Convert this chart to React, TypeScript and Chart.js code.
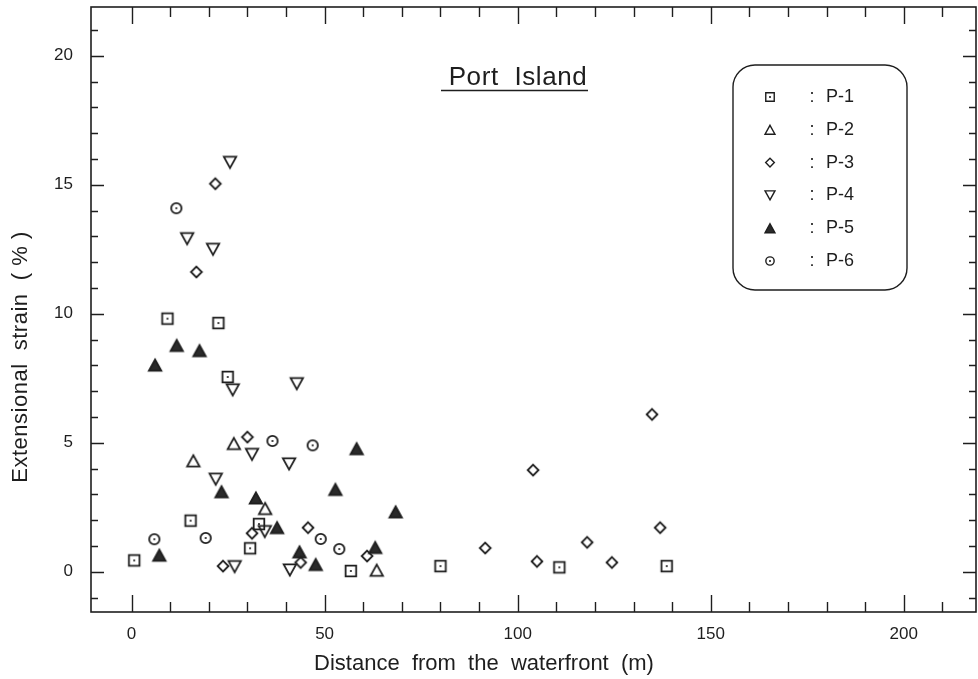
import { useEffect, useRef } from "react";
import { Chart, registerables } from "chart.js";

Chart.register(...registerables);

// ---------- data ----------
const seriesLabels = ["P-1", "P-2", "P-3", "P-4", "P-5", "P-6"];

const p1X = [0.7, 9.3, 15.3, 22.5, 24.9, 30.7, 33.0, 56.8, 80.0, 110.8, 138.6];
const p1Y = [0.44, 9.81, 1.98, 9.64, 7.55, 0.91, 1.85, 0.03, 0.22, 0.17, 0.22];

const p2X = [16.0, 26.5, 34.6, 63.5];
const p2Y = [4.3, 4.97, 2.45, 0.06];

const p3X = [21.7, 16.8, 30.0, 31.2, 23.7, 45.7, 43.8, 61.0, 91.6, 104.0, 105.0, 118.0, 124.4, 134.8, 136.9];
const p3Y = [15.04, 11.62, 5.22, 1.49, 0.22, 1.71, 0.36, 0.61, 0.92, 3.94, 0.4, 1.14, 0.36, 6.1, 1.71];

const p4X = [25.5, 14.4, 21.1, 26.2, 42.8, 31.2, 40.8, 21.8, 34.5, 26.7, 41.0];
const p4Y = [15.87, 12.91, 12.5, 7.05, 7.29, 4.55, 4.18, 3.59, 1.56, 0.2, 0.07];

const p5X = [6.1, 11.7, 17.6, 7.2, 23.3, 32.2, 37.7, 43.5, 47.7, 58.3, 52.8, 63.1, 68.4];
const p5Y = [8.01, 8.77, 8.57, 0.64, 3.1, 2.86, 1.71, 0.77, 0.28, 4.77, 3.19, 0.94, 2.32];

const p6X = [11.6, 5.9, 19.2, 36.5, 46.9, 49.0, 53.8];
const p6Y = [14.09, 1.26, 1.31, 5.07, 4.9, 1.27, 0.88];

const seriesX = [p1X, p2X, p3X, p4X, p5X, p6X];
const seriesY = [p1Y, p2Y, p3Y, p4Y, p5Y, p6Y];
const markerKinds = ["squareDot", "triUp", "diamond", "triDown", "triFilled", "circleDot"];

const xTickLabels = [0, 50, 100, 150, 200];
const yTickLabels = [0, 5, 10, 15, 20];
const xMinorStep = 10;
const yMinorStep = 1;

const xTitle = "Distance  from  the  waterfront  (m)";
const yTitle = "Extensional  strain  ( % )";
const plotTitle = "Port  Island";

const FONT = '"Liberation Sans", Arial, Helvetica, sans-serif';
const INK = "#1e1e1e";

// ---------- marker drawing ----------
function drawMarker(ctx: CanvasRenderingContext2D, kind: string, cx: number, cy: number, s: number, lw: number) {
  ctx.save();
  ctx.strokeStyle = INK;
  ctx.fillStyle = INK;
  ctx.lineWidth = lw;
  ctx.lineJoin = "miter";
  ctx.beginPath();
  if (kind === "squareDot") {
    const h = 5.3 * s;
    ctx.rect(cx - h, cy - h, 2 * h, 2 * h);
    ctx.stroke();
    ctx.fillRect(cx - 0.9, cy - 0.9, 1.8, 1.8);
  } else if (kind === "triUp" || kind === "triFilled") {
    const w = 6.2 * s, h = 5.6 * s;
    ctx.moveTo(cx, cy - h);
    ctx.lineTo(cx + w, cy + h);
    ctx.lineTo(cx - w, cy + h);
    ctx.closePath();
    if (kind === "triFilled") {
      ctx.fillStyle = "#2a2a2a";
      ctx.fill();
    }
    ctx.stroke();
  } else if (kind === "triDown") {
    const w = 6.2 * s, h = 5.6 * s;
    ctx.moveTo(cx, cy + h);
    ctx.lineTo(cx + w, cy - h);
    ctx.lineTo(cx - w, cy - h);
    ctx.closePath();
    ctx.stroke();
  } else if (kind === "diamond") {
    const h = 5.4 * s;
    ctx.moveTo(cx, cy - h);
    ctx.lineTo(cx + h, cy);
    ctx.lineTo(cx, cy + h);
    ctx.lineTo(cx - h, cy);
    ctx.closePath();
    ctx.stroke();
  } else if (kind === "circleDot") {
    ctx.arc(cx, cy, 5.2 * s, 0, Math.PI * 2);
    ctx.stroke();
    ctx.fillRect(cx - 0.9, cy - 0.9, 1.8, 1.8);
  }
  ctx.restore();
}

function makeMarkerCanvas(kind: string): HTMLCanvasElement {
  const c = document.createElement("canvas");
  c.width = 20;
  c.height = 20;
  const ctx = c.getContext("2d")!;
  drawMarker(ctx, kind, 10, 10, 1, 1.8);
  return c;
}

// ---------- decoration plugin (frame, inward ticks, titles, legend) ----------
const decorPlugin = {
  id: "decor",
  afterDraw(chart: any) {
    const ctx: CanvasRenderingContext2D = chart.ctx;
    const { left, right, top, bottom } = chart.chartArea;
    const xs = chart.scales.x;
    const ys = chart.scales.y;
    ctx.save();
    ctx.strokeStyle = INK;
    ctx.lineWidth = 1.6;
    ctx.strokeRect(left, top, right - left, bottom - top);

    // x ticks (bottom and top, pointing inward)
    ctx.lineWidth = 1.4;
    for (let v = 0; v <= 210; v += xMinorStep) {
      const px = Math.round(xs.getPixelForValue(v)) + 0.5;
      const len = v % 50 === 0 ? 17 : 10;
      ctx.beginPath();
      ctx.moveTo(px, bottom);
      ctx.lineTo(px, bottom - len);
      ctx.moveTo(px, top);
      ctx.lineTo(px, top + len);
      ctx.stroke();
    }
    // y ticks (left and right, pointing inward)
    for (let v = -1; v <= 21; v += yMinorStep) {
      const py = Math.round(ys.getPixelForValue(v)) + 0.5;
      const len = v % 5 === 0 ? 13 : 7;
      ctx.beginPath();
      ctx.moveTo(left, py);
      ctx.lineTo(left + len, py);
      ctx.moveTo(right, py);
      ctx.lineTo(right - len, py);
      ctx.stroke();
    }

    // axis titles
    ctx.fillStyle = INK;
    ctx.font = `22px ${FONT}`;
    ctx.textAlign = "center";
    ctx.textBaseline = "alphabetic";
    (ctx as any).letterSpacing = "0px";
    ctx.fillText(xTitle, 484, 670);

    ctx.save();
    (ctx as any).letterSpacing = "0.5px";
    ctx.translate(27, 357);
    ctx.rotate(-Math.PI / 2);
    ctx.fillText(yTitle, 0, 0);
    ctx.restore();

    // plot title with underline
    ctx.font = `26px ${FONT}`;
    (ctx as any).letterSpacing = "0.6px";
    ctx.fillText(plotTitle, 518, 85);
    (ctx as any).letterSpacing = "0px";
    ctx.lineWidth = 1.5;
    ctx.beginPath();
    ctx.moveTo(441, 90.5);
    ctx.lineTo(588, 90.5);
    ctx.stroke();

    // legend box
    ctx.lineWidth = 1.4;
    ctx.beginPath();
    (ctx as any).roundRect(733, 65, 174, 225, 22);
    ctx.stroke();
    ctx.font = `18px ${FONT}`;
    ctx.textBaseline = "middle";
    for (let i = 0; i < seriesLabels.length; i++) {
      const cy = 97 + i * 32.8;
      drawMarker(ctx, markerKinds[i], 770, cy, 0.8, 1.4);
      ctx.textAlign = "center";
      ctx.fillText(":", 812, cy);
      ctx.textAlign = "left";
      ctx.fillText(seriesLabels[i], 826, cy);
    }
    ctx.restore();
  },
};

export default function App() {
  const canvasRef = useRef<HTMLCanvasElement | null>(null);

  useEffect(() => {
    if (!canvasRef.current) return;
    const datasets = seriesLabels.map((label, i) => ({
      label,
      data: seriesX[i].map((x, j) => ({ x, y: seriesY[i][j] })),
      pointStyle: makeMarkerCanvas(markerKinds[i]) as any,
      pointRadius: 6,
      showLine: false,
    }));

    const chart = new Chart(canvasRef.current, {
      type: "scatter",
      data: { datasets },
      options: {
        animation: false,
        responsive: false,
        events: [],
        layout: { autoPadding: false, padding: { top: 7, right: 2, left: 0, bottom: 0 } },
        plugins: {
          legend: { display: false },
          tooltip: { enabled: false },
          title: { display: false },
        },
        scales: {
          x: {
            type: "linear",
            position: "bottom",
            min: -10.5,
            max: 218.7,
            grid: { display: false, drawTicks: false },
            border: { display: false },
            ticks: {
              stepSize: 50,
              includeBounds: false,
              autoSkip: false,
              maxRotation: 0,
              padding: 12,
              color: INK,
              font: { family: FONT, size: 17 },
              callback: (v: any) => (xTickLabels.includes(Number(v)) ? String(v) : ""),
            },
            afterFit: (s: any) => {
              s.height = 67;
              s.paddingLeft = 0;
              s.paddingRight = 0;
            },
          },
          y: {
            type: "linear",
            position: "left",
            min: -1.56,
            max: 21.89,
            grid: { display: false, drawTicks: false },
            border: { display: false },
            ticks: {
              stepSize: 5,
              includeBounds: false,
              autoSkip: false,
              padding: 18,
              color: INK,
              font: { family: FONT, size: 17 },
              callback: (v: any) => (yTickLabels.includes(Number(v)) ? String(v) : ""),
            },
            afterFit: (s: any) => {
              s.width = 91;
              s.paddingTop = 0;
              s.paddingBottom = 0;
            },
          },
        },
      },
      plugins: [decorPlugin],
    });
    return () => chart.destroy();
  }, []);

  return (
    <div style={{ position: "absolute", left: 0, top: 0, width: 978, height: 679, background: "#fff" }}>
      <canvas ref={canvasRef} width={978} height={679} style={{ display: "block" }} />
    </div>
  );
}
